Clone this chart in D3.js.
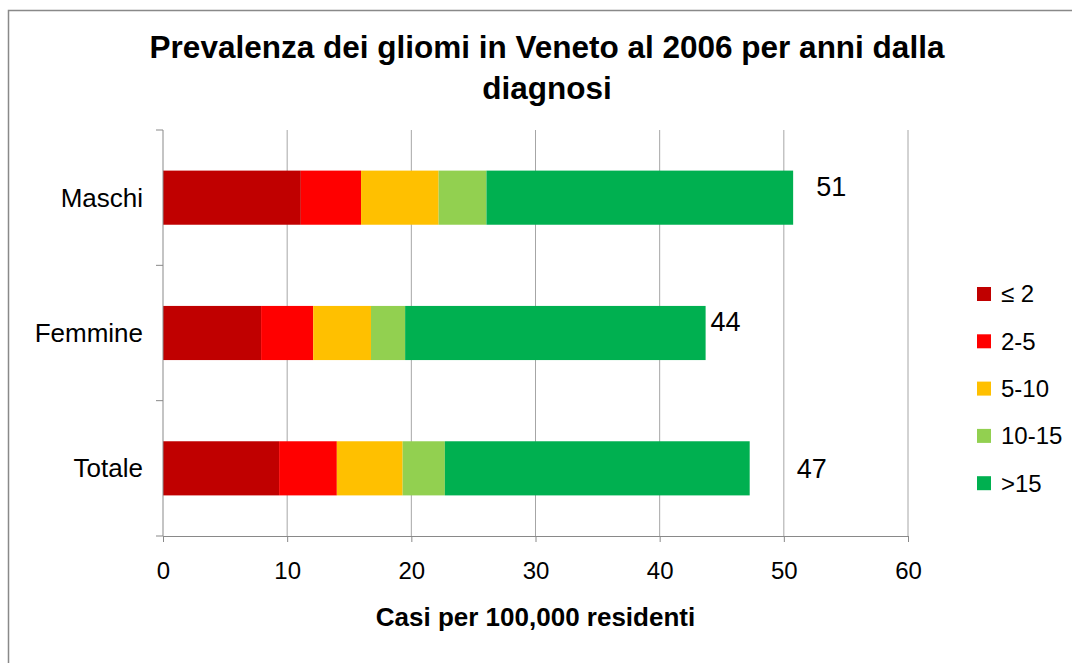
<!DOCTYPE html>
<html lang="it">
<head>
<meta charset="UTF-8">
<title>Prevalenza dei gliomi in Veneto al 2006</title>
<script src="https://d3js.org/d3.v7.min.js"></script>
<style>
  body { margin: 0; background: #fff; }
  text { font-family: "Liberation Sans", Arial, sans-serif; }
</style>
</head>
<body>
<svg width="1072" height="663"></svg>
<script>
// data
const categories = ["Maschi", "Femmine", "Totale"];
const groups = ["\u2264 2", "2-5", "5-10", "10-15", ">15"];
const le2 = [11.1, 7.9, 9.35];
const from2to5 = [4.85, 4.2, 4.65];
const from5to10 = [6.25, 4.65, 5.3];
const from10to15 = [3.85, 2.75, 3.4];
const over15 = [24.7, 24.2, 24.55];
const totalLabels = ["51", "44", "47"];
const xTicks = [0, 10, 20, 30, 40, 50, 60];

const colors = ["#C00000", "#FF0000", "#FFC000", "#92D050", "#00B050"];
const labelShift = [23, 5, 47]; // labels sit at odd distances in the original

const width = 1072, height = 663;
const margin = {top: 130, right: 164, bottom: 127, left: 163};

const svg = d3.select("svg");

// outer frame
svg.append("rect")
  .attr("x", 8.5).attr("y", 10.5)
  .attr("width", 1100).attr("height", 700)
  .attr("fill", "none")
  .attr("stroke", "#898989")
  .attr("stroke-width", 1.5);

const series = [le2, from2to5, from5to10, from10to15, over15];
const rows = categories.map((c, i) => {
  const r = {cat: c};
  groups.forEach((g, j) => r[g] = series[j][i]);
  return r;
});
const stacked = d3.stack().keys(groups)(rows);

const x = d3.scaleLinear()
  .domain([0, 60])
  .range([margin.left, width - margin.right]);

const y = d3.scaleBand()
  .domain(categories)
  .range([margin.top, height - margin.bottom])
  .paddingInner(0.6)
  .paddingOuter(0.3);

// vertical gridlines
svg.append("g")
  .selectAll("line")
  .data(xTicks.slice(1))
  .join("line")
  .attr("x1", d => x(d)).attr("x2", d => x(d))
  .attr("y1", margin.top).attr("y2", height - margin.bottom)
  .attr("stroke", "#a6a6a6")
  .attr("stroke-width", 1);

// bars
svg.append("g")
  .selectAll("g")
  .data(stacked)
  .join("g")
  .attr("fill", (d, i) => colors[i])
  .selectAll("rect")
  .data(d => d)
  .join("rect")
  .attr("x", d => x(d[0]))
  .attr("width", d => x(d[1]) - x(d[0]))
  .attr("y", d => y(d.data.cat))
  .attr("height", y.bandwidth());

// x axis
const xAxis = svg.append("g")
  .attr("transform", `translate(0,${height - margin.bottom})`)
  .call(d3.axisBottom(x).tickValues(xTicks).tickSize(6).tickPadding(20));
xAxis.select(".domain").attr("stroke", "#898989");
xAxis.selectAll(".tick line").attr("stroke", "#898989");
xAxis.selectAll("text")
  .attr("font-size", 24)
  .attr("fill", "#000");

// y axis (category ticks sit between bands)
const yLine = svg.append("g");
yLine.append("line")
  .attr("x1", margin.left).attr("x2", margin.left)
  .attr("y1", margin.top).attr("y2", height - margin.bottom)
  .attr("stroke", "#898989");
const step = (height - margin.bottom - margin.top) / categories.length;
yLine.selectAll(".yt")
  .data(d3.range(categories.length + 1))
  .join("line")
  .attr("x1", margin.left - 7).attr("x2", margin.left)
  .attr("y1", d => margin.top + d * step)
  .attr("y2", d => margin.top + d * step)
  .attr("stroke", "#898989");

svg.append("g")
  .selectAll("text")
  .data(categories)
  .join("text")
  .attr("x", margin.left - 20)
  .attr("y", d => y(d) + y.bandwidth() / 2)
  .attr("dy", "0.35em")
  .attr("text-anchor", "end")
  .attr("font-size", 26)
  .text(d => d);

// total labels
svg.append("g")
  .selectAll("text")
  .data(categories)
  .join("text")
  .attr("x", (d, i) => x(stacked[stacked.length - 1][i][1]) + labelShift[i])
  .attr("y", (d, i) => y(d) + y.bandwidth() / 2 - (i === 2 ? 0 : 11))
  .attr("dy", "0.35em")
  .attr("font-size", 27)
  .text((d, i) => totalLabels[i]);

// title
svg.append("text")
  .attr("x", 547).attr("y", 58)
  .attr("text-anchor", "middle")
  .attr("font-size", 31.5)
  .attr("font-weight", "bold")
  .text("Prevalenza dei gliomi in Veneto al 2006 per anni dalla");
svg.append("text")
  .attr("x", 547).attr("y", 99)
  .attr("text-anchor", "middle")
  .attr("font-size", 31.5)
  .attr("font-weight", "bold")
  .text("diagnosi");

// x axis title
svg.append("text")
  .attr("x", x(30)).attr("y", 626)
  .attr("text-anchor", "middle")
  .attr("font-size", 26)
  .attr("font-weight", "bold")
  .text("Casi per 100,000 residenti");

// legend
const legend = svg.append("g")
  .selectAll("g")
  .data(groups)
  .join("g")
  .attr("transform", (d, i) => `translate(977,${294 + i * 47.3})`);
legend.append("rect")
  .attr("x", 0).attr("y", -7)
  .attr("width", 14).attr("height", 14)
  .attr("fill", (d, i) => colors[i]);
legend.append("text")
  .attr("x", 24).attr("y", 0)
  .attr("dy", "0.35em")
  .attr("font-size", 24)
  .text(d => d);
</script>
</body>
</html>
